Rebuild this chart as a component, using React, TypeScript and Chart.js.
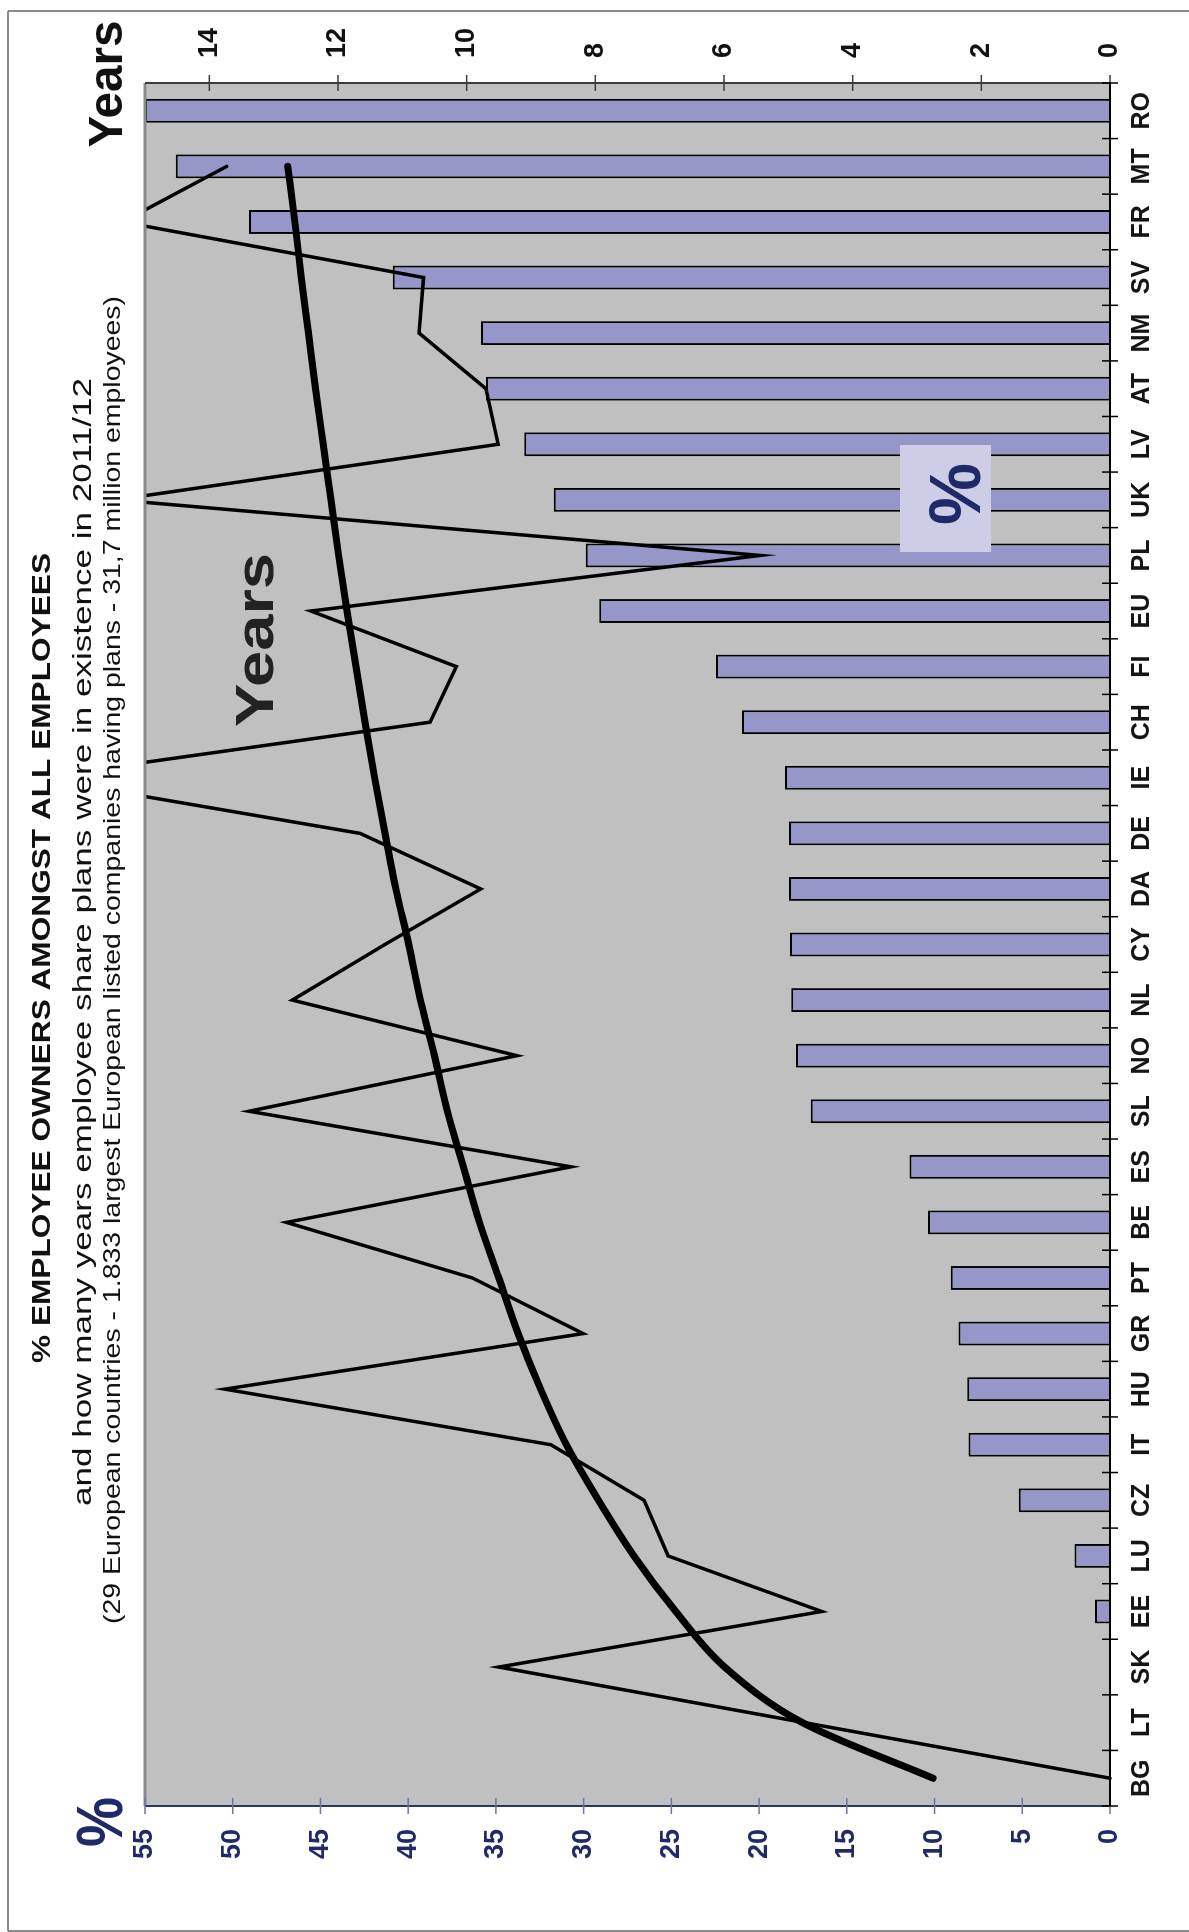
import React, { useEffect, useRef } from "react";
import { Chart, registerables } from "chart.js";

Chart.register(...registerables);

const categories = ["BG","LT","SK","EE","LU","CZ","IT","HU","GR","PT","BE","ES","SL","NO","NL","CY","DA","DE","IE","CH","FI","EU","PL","UK","LV","AT","NM","SV","FR","MT","RO"];

const percentOwners = [0, 0, 0, 0.85, 2.03, 5.2, 8.07, 8.14, 8.63, 9.08, 10.38, 11.43, 17.05, 17.89, 18.17, 18.24, 18.3, 18.3, 18.52, 20.97, 22.45, 29.11, 29.88, 31.71, 33.39, 35.57, 35.85, 40.88, 49.07, 53.25, 55];

const yearsPlans = [0, 4.75, 9.5, 4.48, 6.87, 7.24, 8.69, 13.76, 8.19, 9.91, 12.8, 8.38, 13.38, 9.22, 12.71, 11.27, 9.78, 11.66, 16.7, 10.57, 10.16, 12.42, 5.44, 15.45, 9.51, 9.7, 10.74, 10.67, 15.35, 13.73, null];

const yearsTrend = [2.75, 4.78, 5.99, 6.75, 7.4, 7.95, 8.45, 8.85, 9.2, 9.5, 9.8, 10.05, 10.3, 10.5, 10.72, 10.9, 11.1, 11.27, 11.43, 11.58, 11.72, 11.86, 11.99, 12.11, 12.23, 12.35, 12.46, 12.57, 12.67, 12.78, null];

const percentTicks = [0, 5, 10, 15, 20, 25, 30, 35, 40, 45, 50, 55];
const yearTicks = [0, 2, 4, 6, 8, 10, 12, 14];

const titleLine1 = "% EMPLOYEE OWNERS AMONGST ALL EMPLOYEES";
const titleLine2 = "and how many years employee share plans were in existence in 2011/12";
const titleLine3 = "(29 European countries - 1.833 largest European listed companies having plans - 31,7 million employees)";

const FONT = "'Liberation Sans', Arial, Helvetica, sans-serif";
const NAVY = "#1F2A66";

function stretchedText(ctx: any, text: string, cx: number, baseline: number, font: string, color: string, targetWidth: number) {
  ctx.save();
  ctx.font = font;
  ctx.fillStyle = color;
  ctx.textAlign = "center";
  ctx.textBaseline = "alphabetic";
  const w = ctx.measureText(text).width;
  const s = targetWidth / w;
  ctx.translate(cx, baseline);
  ctx.scale(s, 1);
  ctx.fillText(text, 0, 0);
  ctx.restore();
}

const decor = {
  id: "decor",
  beforeDraw(chart: any) {
    const { ctx, chartArea: a } = chart;
    ctx.save();
    ctx.fillStyle = "#ffffff";
    ctx.fillRect(0, 0, chart.width, chart.height);
    ctx.fillStyle = "#C0C0C0";
    ctx.fillRect(a.left, a.top, a.right - a.left, a.bottom - a.top);
    ctx.restore();
  },
  afterDraw(chart: any) {
    const { ctx, chartArea: a } = chart;
    const yP = chart.scales.yPct;
    const yY = chart.scales.yYears;
    ctx.save();
    ctx.strokeStyle = "#8a8a8a";
    ctx.lineWidth = 3;
    ctx.beginPath();
    ctx.moveTo(a.left, a.top);
    ctx.lineTo(a.right, a.top);
    ctx.stroke();
    ctx.strokeStyle = "#2B3468";
    ctx.lineWidth = 2;
    ctx.beginPath();
    ctx.moveTo(a.left, a.top);
    ctx.lineTo(a.left, a.bottom);
    ctx.stroke();
    ctx.strokeStyle = "#6B75A0";
    ctx.lineWidth = 1.5;
    percentTicks.forEach((v) => {
      const p = yP.getPixelForValue(v);
      ctx.beginPath();
      ctx.moveTo(a.left - 8, p);
      ctx.lineTo(a.left + 8, p);
      ctx.stroke();
    });
    ctx.strokeStyle = "#3c3c3c";
    ctx.lineWidth = 2;
    ctx.beginPath();
    ctx.moveTo(a.right, a.top);
    ctx.lineTo(a.right, a.bottom);
    ctx.stroke();
    ctx.lineWidth = 1.5;
    yearTicks.forEach((v) => {
      const p = yY.getPixelForValue(v);
      ctx.beginPath();
      ctx.moveTo(a.right - 8, p);
      ctx.lineTo(a.right + 8, p);
      ctx.stroke();
    });
    ctx.strokeStyle = "#000";
    ctx.lineWidth = 2;
    ctx.beginPath();
    ctx.moveTo(a.left, a.bottom);
    ctx.lineTo(a.right, a.bottom);
    ctx.stroke();
    ctx.lineWidth = 1.5;
    const n = categories.length;
    for (let i = 0; i <= n; i++) {
      const px = a.left + (i * (a.right - a.left)) / n;
      ctx.beginPath();
      ctx.moveTo(px, a.bottom - 8);
      ctx.lineTo(px, a.bottom + 8);
      ctx.stroke();
    }
    ctx.fillStyle = "#CDCDE8";
    ctx.fillRect(1380, 900, 107, 91);
    stretchedText(ctx, "%", 1438, 980, `bold 72px ${FONT}`, NAVY, 62);
    stretchedText(ctx, "Years", 1292, 273, `bold 53px ${FONT}`, "#222", 174);
    stretchedText(ctx, titleLine1, 974, 50, `bold 25px ${FONT}`, "#111", 810);
    stretchedText(ctx, titleLine2, 990, 91, `26px ${FONT}`, "#111", 1128);
    stretchedText(ctx, titleLine3, 972, 120, `24px ${FONT}`, "#111", 1328);
    stretchedText(ctx, "Years", 1848, 122, `bold 49px ${FONT}`, "#111", 127);
    stretchedText(ctx, "%", 110, 122, `bold 64px ${FONT}`, NAVY, 50);
    ctx.strokeStyle = "#666";
    ctx.lineWidth = 1.5;
    ctx.beginPath();
    ctx.moveTo(1, 8);
    ctx.lineTo(1921, 8);
    ctx.moveTo(1921, 8);
    ctx.lineTo(1921, 1189);
    ctx.moveTo(1, 8);
    ctx.lineTo(1, 1189);
    ctx.stroke();
    ctx.restore();
  },
};

export default function App() {
  const ref = useRef<HTMLCanvasElement>(null);
  useEffect(() => {
    const canvas = ref.current;
    if (!canvas) return;
    const catFont = { family: FONT, size: 25, weight: "bold" as const };
    const numFont = { family: FONT, size: 27, weight: "bold" as const };
    const chart = new Chart(canvas, {
      data: {
        labels: categories,
        datasets: [
          {
            type: "line",
            label: "Trend",
            data: yearsTrend,
            yAxisID: "yYears",
            borderColor: "#000",
            borderWidth: 7,
            pointRadius: 0,
            cubicInterpolationMode: "monotone",
            borderCapStyle: "round",
            clip: { left: 0, top: 0, right: 0, bottom: 4 },
            order: 0,
          },
          {
            type: "line",
            label: "Years",
            data: yearsPlans,
            yAxisID: "yYears",
            borderColor: "#000",
            borderWidth: 3.5,
            pointRadius: 0,
            tension: 0,
            borderCapStyle: "round",
            borderJoinStyle: "miter",
            clip: { left: 0, top: 0, right: 0, bottom: 4 },
            order: 1,
          },
          {
            type: "bar",
            label: "%",
            data: percentOwners,
            yAxisID: "yPct",
            backgroundColor: "#9696C8",
            borderColor: "#000",
            borderWidth: 2,
            barPercentage: 0.43,
            categoryPercentage: 1,
            order: 2,
          },
        ],
      } as any,
      options: {
        responsive: false,
        animation: false,
        devicePixelRatio: 1,
        layout: { padding: { top: 145, left: 0, right: 0, bottom: 0 } },
        plugins: {
          legend: { display: false },
          tooltip: { enabled: false },
          title: { display: false },
        },
        scales: {
          x: {
            type: "category",
            position: "bottom",
            offset: true,
            grid: { display: false, drawTicks: false },
            border: { display: false },
            ticks: {
              color: "#151515",
              font: catFont,
              padding: 17,
              autoSkip: false,
              maxRotation: 0,
              minRotation: 0,
            },
            afterFit: (s: any) => {
              s.height = 79;
            },
          },
          yPct: {
            type: "linear",
            position: "left",
            min: 0,
            max: 55,
            afterBuildTicks: (s: any) => {
              s.ticks = percentTicks.map((v) => ({ value: v }));
            },
            grid: { display: false, drawTicks: false },
            border: { display: false },
            ticks: { color: NAVY, font: numFont, padding: 23 },
            afterFit: (s: any) => {
              s.width = 126;
            },
          },
          yYears: {
            type: "linear",
            position: "right",
            min: 0,
            max: 15,
            afterBuildTicks: (s: any) => {
              s.ticks = yearTicks.map((v) => ({ value: v }));
            },
            grid: { display: false, drawTicks: false },
            border: { display: false },
            ticks: { color: "#111", font: numFont, padding: 25 },
            afterFit: (s: any) => {
              s.width = 83;
            },
          },
        },
      } as any,
      plugins: [decor],
    });
    return () => chart.destroy();
  }, []);
  return (
    <div style={{ position: "absolute", left: 0, top: 0, width: 1189, height: 1932, overflow: "hidden", background: "#fff" }}>
      <div
        style={{
          position: "absolute",
          left: 0,
          top: 0,
          width: 1932,
          height: 1189,
          transformOrigin: "0 0",
          transform: "translate(0px, 1932px) rotate(-90deg)",
        }}
      >
        <canvas ref={ref} width={1932} height={1189} style={{ display: "block", width: 1932, height: 1189 }} />
      </div>
    </div>
  );
}
